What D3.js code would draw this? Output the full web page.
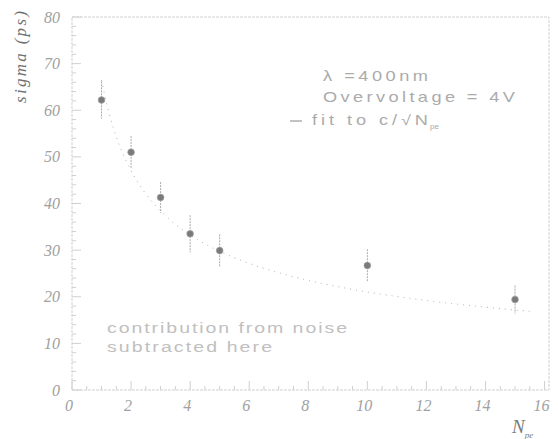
<!DOCTYPE html>
<html>
<head>
<meta charset="utf-8">
<script src="https://cdn.jsdelivr.net/npm/d3@7"></script>
<style>
  body { margin: 0; background: #fff; }
  .tick-label { font-family: "Liberation Serif", serif; font-style: italic; font-size: 16px; fill: #a0a0a0; }
  .note { font-family: "Liberation Sans", sans-serif; font-size: 15px; fill: #a8a8a8; }
</style>
</head>
<body>
<div id="vis"></div>
<script>
// measured points: number of photoelectrons vs timing resolution
var nPe = [1, 2, 3, 4, 5, 10, 15];
var sigmaPs = [62.2, 51.0, 41.3, 33.5, 29.9, 26.7, 19.4];
var sigmaErr = [4.0, 3.5, 3.3, 4.0, 3.5, 3.5, 3.0];

// fit constant for c / sqrt(N_pe)
var fitC = 66.5;
var fitRange = [1, 15.5];

var xTicks = [0, 2, 4, 6, 8, 10, 12, 14, 16];
var yTicks = [0, 10, 20, 30, 40, 50, 60, 70, 80];

var width = 558;
var height = 439;

var x = d3.scaleLinear().domain([0, 16.15]).range([72, 549]);
var y = d3.scaleLinear().domain([0, 80]).range([390, 17]);

var svg = d3.select('#vis').append('svg')
    .attr('width', width)
    .attr('height', height);

var frameColor = '#d0d0d0';

// frame
svg.append('rect')
    .attr('x', x(0))
    .attr('y', y(80))
    .attr('width', x(16.15) - x(0))
    .attr('height', y(0) - y(80))
    .attr('fill', 'none')
    .attr('stroke', frameColor)
    .attr('stroke-width', 1)
    .attr('stroke-dasharray', '3,1');

// x axis ticks (pointing up), minor every 0.5
var xMinor = d3.range(0, 16.01, 0.5);
svg.selectAll('.xtick').data(xMinor).enter().append('line')
    .attr('x1', function (d) { return x(d); })
    .attr('x2', function (d) { return x(d); })
    .attr('y1', y(0))
    .attr('y2', function (d) { return y(0) - (d % 2 === 0 ? 9 : 4); })
    .attr('stroke', frameColor)
    .attr('stroke-width', 1);

// y axis ticks (pointing right), minor every 2
var yMinor = d3.range(0, 80.01, 2);
svg.selectAll('.ytick').data(yMinor).enter().append('line')
    .attr('x1', x(0))
    .attr('x2', function (d) { return x(0) + (d % 10 === 0 ? 9 : 4); })
    .attr('y1', function (d) { return y(d); })
    .attr('y2', function (d) { return y(d); })
    .attr('stroke', frameColor)
    .attr('stroke-width', 1);

// tick labels
svg.selectAll('.xlab').data(xTicks).enter().append('text')
    .attr('class', 'tick-label')
    .attr('x', function (d) { return x(d) - 3; })
    .attr('y', y(0) + 21)
    .attr('text-anchor', 'middle')
    .text(function (d) { return d; });

svg.selectAll('.ylab').data(yTicks).enter().append('text')
    .attr('class', 'tick-label')
    .attr('x', 60)
    .attr('y', function (d) { return y(d) + 5.5; })
    .attr('text-anchor', 'end')
    .text(function (d) { return d; });

// axis titles
svg.append('text')
    .attr('transform', 'translate(26,57) rotate(-90)')
    .attr('text-anchor', 'middle')
    .attr('textLength', 92)
    .attr('lengthAdjust', 'spacing')
    .style('font-family', '"Liberation Serif", serif')
    .style('font-style', 'italic')
    .style('font-size', '17px')
    .attr('fill', '#707070')
    .text('sigma (ps)');

var xt = svg.append('text')
    .attr('x', 512)
    .attr('y', 433)
    .style('font-family', '"Liberation Serif", serif')
    .style('font-style', 'italic')
    .attr('fill', '#7a7a7a');
xt.append('tspan').style('font-size', '19px').text('N');
xt.append('tspan').style('font-size', '9px').attr('dy', 5).text('pe');

// fit curve
var fitPts = d3.range(fitRange[0], fitRange[1] + 0.001, 0.05);
var fitLine = d3.line()
    .x(function (d) { return x(d); })
    .y(function (d) { return y(fitC / Math.sqrt(d)); });
svg.append('path')
    .datum(fitPts)
    .attr('d', fitLine)
    .attr('fill', 'none')
    .attr('stroke', '#b0b0b0')
    .attr('stroke-width', 1)
    .attr('stroke-dasharray', '1,5');

// error bars
svg.selectAll('.err').data(nPe).enter().append('line')
    .attr('x1', function (d) { return x(d); })
    .attr('x2', function (d) { return x(d); })
    .attr('y1', function (d, i) { return y(sigmaPs[i] + sigmaErr[i]); })
    .attr('y2', function (d, i) { return y(sigmaPs[i] - sigmaErr[i]); })
    .attr('stroke', '#aaa')
    .attr('stroke-width', 1)
    .attr('stroke-dasharray', '2,1');

// markers
svg.selectAll('.pt').data(nPe).enter().append('circle')
    .attr('cx', function (d) { return x(d); })
    .attr('cy', function (d, i) { return y(sigmaPs[i]); })
    .attr('r', 3.3)
    .attr('fill', '#7a7a7a')
    .attr('stroke', '#9a9a9a')
    .attr('stroke-width', 0.8);

// annotation text: wide glyphs (horizontal stretch) plus some tracking
var stretch = 1.3;
function note(txt, tx, ty, len, size, color) {
    return svg.append('text').attr('class', 'note')
        .attr('transform', 'translate(' + tx + ',' + ty + ') scale(' + stretch + ',1)')
        .attr('textLength', len / stretch)
        .attr('lengthAdjust', 'spacing')
        .style('font-size', size + 'px')
        .style('fill', color)
        .text(txt);
}

note('\u03bb =400nm', 323, 81, 105, 14, '#ababab');
note('Overvoltage = 4V', 323, 102, 192, 14, '#ababab');

svg.append('line')
    .attr('x1', 290).attr('x2', 302)
    .attr('y1', 121).attr('y2', 121)
    .attr('stroke', '#999')
    .attr('stroke-width', 1.2);
note('fit to c/\u221aN', 312, 125, 116, 14, '#ababab');
svg.append('text').attr('class', 'note')
    .attr('x', 430).attr('y', 129)
    .style('font-size', '8px')
    .text('pe');

note('contribution from noise', 107, 333, 240, 15, '#c0c0c0');
note('subtracted here', 107, 352, 165, 15, '#c0c0c0');
</script>
</body>
</html>
